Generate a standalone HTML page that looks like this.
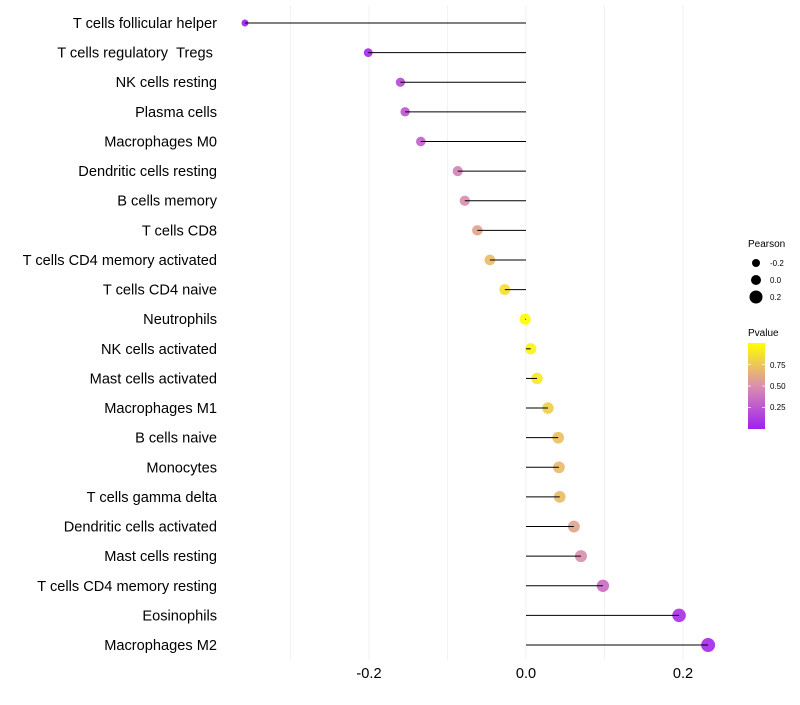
<!DOCTYPE html>
<html><head><meta charset="utf-8"><style>
body{margin:0;background:#fff;font-family:"Liberation Sans",sans-serif}
</style></head><body>
<svg id="chart" width="800" height="700" xmlns="http://www.w3.org/2000/svg" font-family="Liberation Sans, sans-serif">
<defs><linearGradient id="pg" x1="0" y1="1" x2="0" y2="0">
<stop offset="0" stop-color="#A020F0"/><stop offset="0.5" stop-color="#DA8FAF"/><stop offset="1" stop-color="#FFFF00"/></linearGradient></defs>
<g id="grid"></g><g id="marks"></g><g id="labels"></g><g id="xticks"></g>
<g>
<text x="748" y="247" font-size="10">Pearson</text>
<circle cx="756" cy="263" r="4" fill="#000"/><text x="770" y="266" font-size="8">-0.2</text>
<circle cx="756" cy="280" r="5" fill="#000"/><text x="770" y="283" font-size="8">0.0</text>
<circle cx="756" cy="297" r="6.5" fill="#000"/><text x="770" y="300" font-size="8">0.2</text>
</g>
<g>
<text x="748" y="336" font-size="10">Pvalue</text>
<rect x="748" y="343" width="17" height="86" fill="url(#pg)"/>
<g stroke="#fff" stroke-opacity="0.7"><line x1="748" x2="751" y1="364.5" y2="364.5"/><line x1="762" x2="765" y1="364.5" y2="364.5"/>
<line x1="748" x2="751" y1="386" y2="386"/><line x1="762" x2="765" y1="386" y2="386"/>
<line x1="748" x2="751" y1="407.5" y2="407.5"/><line x1="762" x2="765" y1="407.5" y2="407.5"/></g>
<text x="770" y="368" font-size="8">0.75</text><text x="770" y="389" font-size="8">0.50</text><text x="770" y="410" font-size="8">0.25</text>
</g>
</svg>
<script>
const categories=["T cells follicular helper","T cells regulatory \u00a0Tregs\u00a0","NK cells resting","Plasma cells","Macrophages M0","Dendritic cells resting","B cells memory","T cells CD8","T cells CD4 memory activated","T cells CD4 naive","Neutrophils","NK cells activated","Mast cells activated","Macrophages M1","B cells naive","Monocytes","T cells gamma delta","Dendritic cells activated","Mast cells resting","T cells CD4 memory resting","Eosinophils","Macrophages M2"];
const pearson=[-0.358,-0.201,-0.160,-0.154,-0.134,-0.087,-0.078,-0.062,-0.046,-0.027,-0.001,0.006,0.014,0.028,0.041,0.042,0.043,0.061,0.070,0.098,0.195,0.232];
const pvalue=[0.0,0.05,0.2,0.25,0.3,0.45,0.5,0.6,0.7,0.85,0.99,0.95,0.9,0.78,0.72,0.7,0.7,0.6,0.5,0.35,0.08,0.05];
const xTicks=[-0.2,0.0,0.2];
const xTickLabels=["-0.2","0.0","0.2"];
const gridVals=[-0.3,-0.2,-0.1,0,0.1,0.2];
const NS="http://www.w3.org/2000/svg";
const x=v=>526+v*785;
const y=i=>23+i*29.62;
const r=v=>Math.max(1.5,5.6+v*6);
function lerp(a,b,t){return a.map((c,k)=>Math.round(c+(b[k]-c)*t));}
function col(p){const lo=[160,32,240],mid=[218,143,175],hi=[255,255,0];
const c=p<0.5?lerp(lo,mid,p/0.5):lerp(mid,hi,(p-0.5)/0.5);return `rgb(${c.join(',')})`;}
function mk(tag,at,parent){const e=document.createElementNS(NS,tag);for(const k in at)e.setAttribute(k,at[k]);parent.appendChild(e);return e;}
const grid=document.getElementById('grid'),marks=document.getElementById('marks'),labels=document.getElementById('labels'),xt=document.getElementById('xticks');
gridVals.forEach(v=>{const l=mk('line',{x1:x(v),x2:x(v),y1:5,y2:660,stroke:'#f2f2f2','stroke-width':1},grid);

});
categories.forEach((c,i)=>{
const p=mk('circle',{cx:x(pearson[i]),cy:y(i),r:r(pearson[i]),fill:col(pvalue[i]),'fill-opacity':0.92},marks);


const s=mk('line',{x1:x(0),x2:x(pearson[i]),y1:y(i),y2:y(i),stroke:'#000','stroke-width':1},marks);


const t=mk('text',{x:217,y:y(i)+5,'text-anchor':'end','font-size':14.6,fill:'#000'},labels);
t.textContent=c;

});
xTicks.forEach((v,i)=>{const t=mk('text',{x:x(v),y:678,'text-anchor':'middle','font-size':14.6,fill:'#000'},xt);
t.textContent=xTickLabels[i];

});
</script>
</body></html>
